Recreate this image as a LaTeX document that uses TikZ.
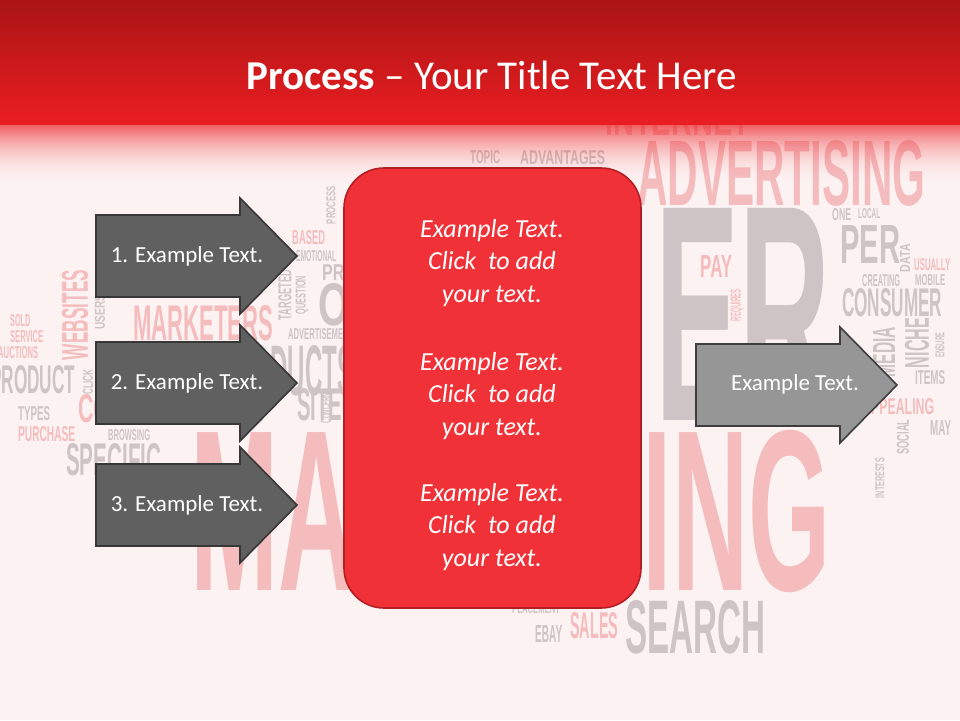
\documentclass[tikz,border=0pt]{standalone}
\usepackage{graphicx}
\usepackage{fontspec}
\setmainfont{Carlito}
\newfontfamily\cloudfont{Liberation Sans}
% word of the background cloud, squeezed to width x height
\newcommand{\cword}[3]{\resizebox{#1pt}{#2pt}{\cloudfont\bfseries #3}}

\begin{document}
\begin{tikzpicture}[x=1pt,y=1pt,yscale=-1,xscale=1,
  pinkw/.style={anchor=north west,inner sep=0pt,text={rgb,255:red,245;green,188;blue,190}},
  grayw/.style={anchor=north west,inner sep=0pt,text={rgb,255:red,206;green,196;blue,197}},
  darrow/.style={draw={rgb,255:red,55;green,55;blue,55},line width=1.6,fill={rgb,255:red,96;green,96;blue,96}},
  larrow/.style={draw={rgb,255:red,62;green,62;blue,62},line width=1.6,fill={rgb,255:red,150;green,150;blue,150}},
  arrtext/.style={inner sep=0.75pt,text=white,font=\fontsize{23}{27}\selectfont},
  boxtext/.style={inner sep=0.75pt,text=white,align=center,font=\fontsize{26}{32.5}\selectfont\itshape}]
\useasboundingbox (0,0) rectangle (960,720);
\clip (0,0) rectangle (960,720);
%Shape: Rectangle [background]
\fill [color={rgb, 255:red, 253; green, 242; blue, 242}] (0,0) rectangle (960,720);

%Word cloud, pink words
\draw (190,430) node [pinkw] (wMkt) {\cword{640}{160}{MARKETING}};
\draw (637,140) node [pinkw] (wAdv) {\cword{288}{65}{ADVERTISING}};
\draw (605,100) node [pinkw] (wInet) {\cword{145}{35}{INTERNET}};
\draw (133,305) node [pinkw] (wMkts) {\cword{140}{35}{MARKETERS}};
\draw (75,315) node [pinkw,anchor=center,rotate=90] (wWeb) {\cword{90}{26}{WEBSITES}};
\draw (10,314) node [pinkw] (wSold) {\cword{20}{12}{SOLD}};
\draw (10,330) node [pinkw] (wServ) {\cword{33}{12}{SERVICE}};
\draw (-2,346) node [pinkw] (wAuct) {\cword{40}{12}{AUCTIONS}};
\draw (18,426) node [pinkw] (wPurch) {\cword{57}{15}{PURCHASE}};
\draw (78,394) node [pinkw] (wCo) {\cword{32}{28}{CO}};
\draw (292,230) node [pinkw] (wBased) {\cword{33}{14}{BASED}};
\draw (700,255) node [pinkw] (wPay) {\cword{32}{22}{PAY}};
\draw (737,305) node [pinkw,anchor=center,rotate=90] (wReq) {\cword{32}{10}{REQUIRES}};
\draw (914,258) node [pinkw] (wUsu) {\cword{36}{12}{USUALLY}};
\draw (862,398) node [pinkw] (wApp) {\cword{72}{16}{APPEALING}};
\draw (570,612) node [pinkw] (wSales) {\cword{48}{26}{SALES}};

%Word cloud, gray words
\draw (655,208) node [grayw] (wEr) {\cword{175}{212}{ER}};
\draw (840,225) node [grayw] (wPer) {\cword{60}{38}{PER}};
\draw (832,208) node [grayw] (wOne) {\cword{19}{12}{ONE}};
\draw (858,208) node [grayw] (wLoc) {\cword{22}{10}{LOCAL}};
\draw (905,258) node [grayw,anchor=center,rotate=90] (wData) {\cword{28}{10}{DATA}};
\draw (862,274) node [grayw] (wCreat) {\cword{38}{12}{CREATING}};
\draw (915,274) node [grayw] (wMob) {\cword{30}{11}{MOBILE}};
\draw (842,288) node [grayw] (wCons) {\cword{100}{28}{CONSUMER}};
\draw (917,343) node [grayw,anchor=center,rotate=90] (wNiche) {\cword{50}{24}{NICHE}};
\draw (884,352) node [grayw,anchor=center,rotate=90] (wMedia) {\cword{50}{22}{MEDIA}};
\draw (940,345) node [grayw,anchor=center,rotate=90] (wEns) {\cword{25}{9}{ENSURE}};
\draw (915,370) node [grayw] (wItems) {\cword{30}{14}{ITEMS}};
\draw (930,420) node [grayw] (wMay) {\cword{21}{15}{MAY}};
\draw (903,437) node [grayw,anchor=center,rotate=90] (wSoc) {\cword{35}{12}{SOCIAL}};
\draw (880,478) node [grayw,anchor=center,rotate=90] (wInt) {\cword{40}{9}{INTERESTS}};
\draw (625,600) node [grayw] (wSearch) {\cword{140}{53}{SEARCH}};
\draw (535,625) node [grayw] (wEbay) {\cword{27}{17}{EBAY}};
\draw (512,603) node [grayw] (wPlace) {\cword{48}{10}{PLACEMENT}};
\draw (470,150) node [grayw] (wTopic) {\cword{30}{13}{TOPIC}};
\draw (520,150) node [grayw] (wAdvt) {\cword{85}{14}{ADVANTAGES}};
\draw (-10,365) node [grayw] (wProd) {\cword{85}{28}{PRODUCT}};
\draw (18,406) node [grayw] (wTypes) {\cword{32}{14}{TYPES}};
\draw (108,429) node [grayw] (wBrow) {\cword{42}{11}{BROWSING}};
\draw (66,443) node [grayw] (wSpec) {\cword{95}{32}{SPECIFIC}};
\draw (100,312) node [grayw,anchor=center,rotate=90] (wUsers) {\cword{35}{10}{USERS}};
\draw (88,382) node [grayw,anchor=center,rotate=90] (wClick) {\cword{25}{10}{CLICK}};
\draw (296,250) node [grayw] (wEmo) {\cword{40}{11}{EMOTIONAL}};
\draw (285,295) node [grayw,anchor=center,rotate=90] (wTarg) {\cword{50}{13}{TARGETED}};
\draw (302,295) node [grayw,anchor=center,rotate=90] (wQues) {\cword{38}{10}{QUESTION}};
\draw (322,264) node [grayw] (wPro) {\cword{35}{16}{PRO}};
\draw (318,283) node [grayw] (wOn) {\cword{60}{42}{ON}};
\draw (288,328) node [grayw] (wAdvm) {\cword{65}{11}{ADVERTISEMENT}};
\draw (218,345) node [grayw] (wProds) {\cword{135}{50}{PRODUCTS}};
\draw (297,388) node [grayw] (wSite) {\cword{45}{32}{SITE}};
\draw (326,408) node [grayw,anchor=center,rotate=90] (wConc) {\cword{30}{10}{CONCERN}};
\draw (331,205) node [grayw,anchor=center,rotate=90] (wProc) {\cword{38}{9}{PROCESS}};

%Fade under the title bar, in thin strips
\foreach \i in {0,...,29}
  \fill [color={rgb, 255:red, 236; green, 40; blue, 44}, fill opacity={0.72*(1-\i/30)*(1-\i/30)}] (0,{124+2*\i}) rectangle (960,{126+2*\i});
%Shape: Rectangle [title bar]
\fill [top color={rgb, 255:red, 170; green, 20; blue, 20}, bottom color={rgb, 255:red, 234; green, 30; blue, 34}] (0,0) rectangle (960,124);
% Text Node
\draw (492,75) node [inner sep=0.75pt, text=white, font=\fontsize{41}{48}\selectfont] (title) {\textbf{Process} -- Your Title Text Here};

%Shape: Right Arrow [1]
\draw [darrow] (96,215) -- (240,215) -- (240,198) -- (297,256) -- (240,314) -- (240,297) -- (96,297) -- cycle ;
%Shape: Right Arrow [2]
\draw [darrow] (96,342) -- (240,342) -- (240,325) -- (297,383) -- (240,441) -- (240,424) -- (96,424) -- cycle ;
%Shape: Right Arrow [3]
\draw [darrow] (96,464) -- (240,464) -- (240,447) -- (297,505) -- (240,563) -- (240,546) -- (96,546) -- cycle ;
% Text Node
\draw (187,256) node [arrtext] (step1) {1. Example Text.};
% Text Node
\draw (187,383) node [arrtext] (step2) {2. Example Text.};
% Text Node
\draw (187,505) node [arrtext] (step3) {3. Example Text.};

%Shape: Rounded Rect
\draw [draw={rgb, 255:red, 178; green, 30; blue, 34}, line width=1.6, fill={rgb, 255:red, 240; green, 50; blue, 56}, rounded corners=40] (344,168) rectangle (641,608) ;
% Text Node
\draw (492,263) node [boxtext] (blk1) {Example Text.\\Click\ \ to add\\your text.};
% Text Node
\draw (492,396) node [boxtext] (blk2) {Example Text.\\Click\ \ to add\\your text.};
% Text Node
\draw (492,527) node [boxtext] (blk3) {Example Text.\\Click\ \ to add\\your text.};

%Shape: Right Arrow [result]
\draw [larrow] (696,344) -- (840,344) -- (840,327) -- (897,385) -- (840,443) -- (840,426) -- (696,426) -- cycle ;
% Text Node
\draw (795,384) node [arrtext] (result) {Example Text.};
\end{tikzpicture}
\end{document}
